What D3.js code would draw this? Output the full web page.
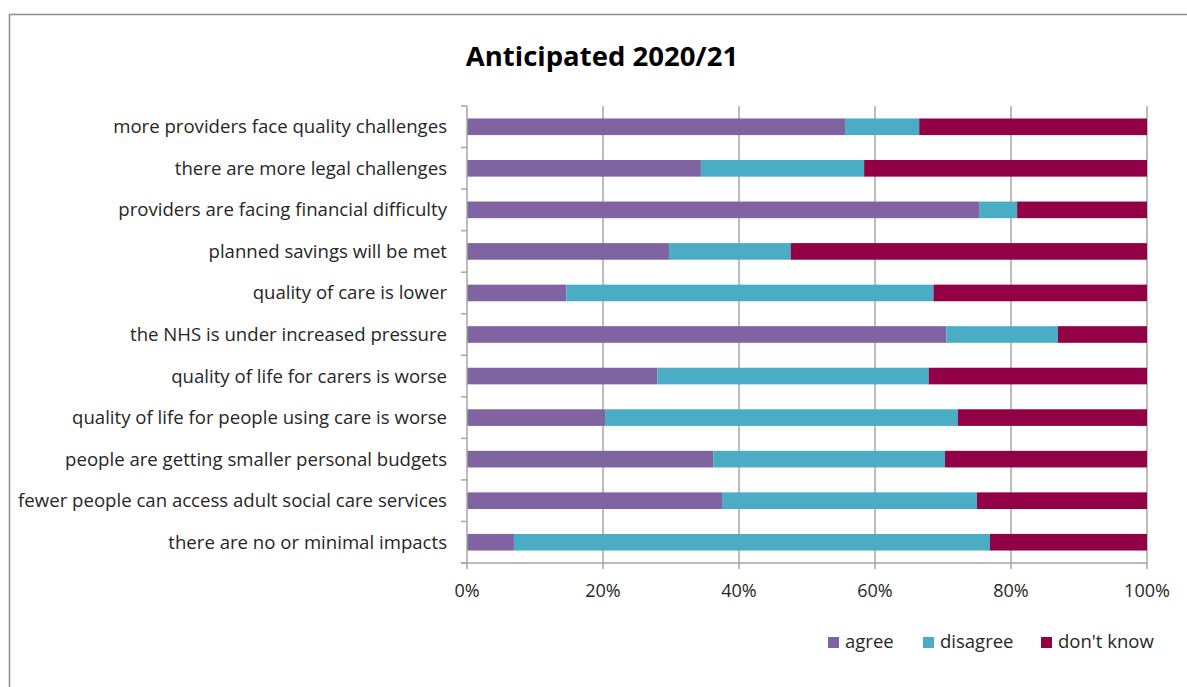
<!DOCTYPE html>
<html>
<head>
<meta charset="utf-8">
<script src="https://cdn.jsdelivr.net/npm/d3@7"></script>
<style>
  body { margin: 0; background: #fff; }
  text { font-family: "Open Sans", sans-serif; fill: #262626; }
</style>
</head>
<body>
<div id="chart"></div>
<script>
var categories = [
  "more providers face quality challenges",
  "there are more legal challenges",
  "providers are facing financial difficulty",
  "planned savings will be met",
  "quality of care is lower",
  "the NHS is under increased pressure",
  "quality of life for carers is worse",
  "quality of life for people using care is worse",
  "people are getting smaller personal budgets",
  "fewer people can access adult social care services",
  "there are no or minimal impacts"
];
var agree = [55.6, 34.4, 75.4, 29.7, 14.6, 70.5, 28.0, 20.3, 36.2, 37.5, 6.9];
var disagree = [10.9, 24.0, 5.5, 17.9, 54.0, 16.4, 39.9, 51.9, 34.1, 37.5, 70.0];
var dontKnow = [33.5, 41.6, 19.1, 52.4, 31.4, 13.1, 32.1, 27.8, 29.7, 25.0, 23.1];
var seriesNames = ["agree", "disagree", "don't know"];
var seriesColors = ["#8064a2", "#4bacc6", "#920045"];
var xTicks = [0, 20, 40, 60, 80, 100];

var W = 1187, H = 687;
var svg = d3.select("#chart").append("svg").attr("width", W).attr("height", H);

// chart frame (runs off right/bottom like the original)
svg.append("rect")
  .attr("x", 9.5).attr("y", 14.5)
  .attr("width", 1200).attr("height", 700)
  .attr("fill", "none").attr("stroke", "#8c8c8c").attr("stroke-width", 1.5);

var data = categories.map(function (c, i) {
  return { cat: c, "agree": agree[i], "disagree": disagree[i], "don't know": dontKnow[i] };
});

var x = d3.scaleLinear().domain([0, 100]).range([467, 1147]);
var y = d3.scaleBand().domain(categories).range([106, 563]).paddingInner(0.6).paddingOuter(0.3);

// vertical gridlines
svg.append("g").selectAll("line").data(xTicks.slice(1)).enter().append("line")
  .attr("x1", function (d) { return x(d); }).attr("x2", function (d) { return x(d); })
  .attr("y1", 106).attr("y2", 563)
  .attr("stroke", "#a6a6a6").attr("stroke-width", 1.5);

var stack = d3.stack().keys(seriesNames)(data);
svg.append("g").selectAll("g").data(stack).enter().append("g")
  .attr("fill", function (d, i) { return seriesColors[i]; })
  .selectAll("rect").data(function (d) { return d; }).enter().append("rect")
  .attr("x", function (d) { return x(d[0]); })
  .attr("width", function (d) { return x(d[1]) - x(d[0]); })
  .attr("y", function (d) { return y(d.data.cat); })
  .attr("height", y.bandwidth());

// left axis line with category boundary ticks
var left = svg.append("g");
left.append("line").attr("x1", 467).attr("x2", 467).attr("y1", 106).attr("y2", 563)
  .attr("stroke", "#a6a6a6").attr("stroke-width", 1.5);
var step = (563 - 106) / categories.length;
left.selectAll("line.tk").data(d3.range(categories.length + 1)).enter().append("line")
  .attr("class", "tk")
  .attr("x1", 461).attr("x2", 467)
  .attr("y1", function (i) { return 106 + i * step; })
  .attr("y2", function (i) { return 106 + i * step; })
  .attr("stroke", "#a6a6a6").attr("stroke-width", 1.5);
left.selectAll("text").data(categories).enter().append("text")
  .attr("x", 447)
  .attr("y", function (d) { return y(d) + y.bandwidth() / 2; })
  .attr("dy", "0.35em")
  .attr("text-anchor", "end")
  .style("font-size", "18.6px")
  .text(function (d) { return d; });

// bottom axis
var bottom = svg.append("g");
bottom.append("line").attr("x1", 461).attr("x2", 1147).attr("y1", 563).attr("y2", 563)
  .attr("stroke", "#a6a6a6").attr("stroke-width", 1.5);
bottom.selectAll("line.tk").data(xTicks).enter().append("line")
  .attr("class", "tk")
  .attr("x1", function (d) { return x(d); }).attr("x2", function (d) { return x(d); })
  .attr("y1", 563).attr("y2", 569)
  .attr("stroke", "#a6a6a6").attr("stroke-width", 1.5);
bottom.selectAll("text").data(xTicks).enter().append("text")
  .attr("x", function (d) { return x(d); })
  .attr("y", 597)
  .attr("text-anchor", "middle")
  .style("font-size", "18px")
  .text(function (d) { return d + "%"; });

// title
svg.append("text")
  .attr("x", 602).attr("y", 66)
  .attr("text-anchor", "middle")
  .style("font-size", "27.5px").style("font-weight", "bold").style("fill", "#000")
  .text("Anticipated 2020/21");

// legend
var legX = [828, 923, 1041];
var legend = svg.append("g").selectAll("g").data(seriesNames).enter().append("g")
  .attr("transform", function (d, i) { return "translate(" + legX[i] + ",637)"; });
legend.append("rect").attr("width", 11).attr("height", 11)
  .attr("fill", function (d, i) { return seriesColors[i]; });
legend.append("text").attr("x", 17).attr("y", 11)
  .style("font-size", "18.5px")
  .text(function (d) { return d; });
</script>
</body>
</html>
